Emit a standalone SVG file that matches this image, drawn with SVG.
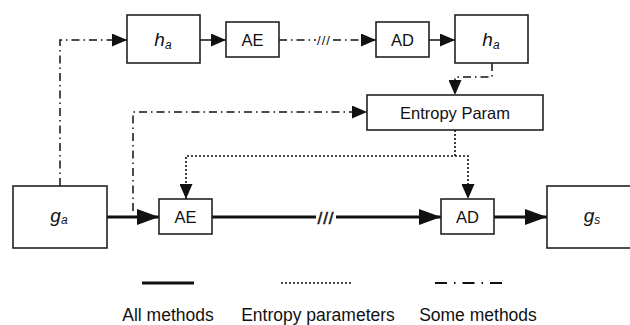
<svg xmlns="http://www.w3.org/2000/svg" width="630" height="325" viewBox="0 0 630 325">
<style>
.box{fill:#fff;stroke:#222;stroke-width:1.6}
.lbl{font-family:"Liberation Sans",Arial,sans-serif;font-size:16.5px;fill:#111;text-anchor:middle}
.it{font-family:"Liberation Sans",Arial,sans-serif;font-style:italic;font-size:19px;fill:#111;text-anchor:middle}
.leg{font-family:"Liberation Sans",Arial,sans-serif;font-size:17.5px;fill:#111;text-anchor:middle}
.solid{fill:none;stroke:#111;stroke-width:3}
.dot{fill:none;stroke:#111;stroke-width:1.6;stroke-dasharray:2 2}
.dd{fill:none;stroke:#111;stroke-width:1.5;stroke-dasharray:8 4 1.5 4}
.thin{fill:none;stroke:#111;stroke-width:1.5}
</style>
<defs>
<marker id="aL" markerUnits="userSpaceOnUse" markerWidth="22" markerHeight="16" refX="22" refY="8" orient="auto">
<path d="M0,0 L22,8 L0,16 Z" fill="#111"/>
</marker>
<marker id="aS" markerUnits="userSpaceOnUse" markerWidth="15" markerHeight="13" refX="15" refY="6.5" orient="auto">
<path d="M0,0 L15,6.5 L0,13 Z" fill="#111"/>
</marker>
</defs>

<g id="connectors">
<path class="dd" d="M60,186 V40 H127" marker-end="url(#aS)"/>
<path class="thin" d="M200,40 H226" marker-end="url(#aS)"/>
<path class="dd" d="M279,40 H316"/>
<text x="324" y="45" font-family="Liberation Sans,Arial,sans-serif" font-size="13" fill="#111" text-anchor="middle" letter-spacing="1">///</text>
<path class="dd" d="M333,40 H376" stroke-dasharray="1.5 5 1.5 5 8 4" marker-end="url(#aS)"/>
<path class="thin" d="M429,40 H455" marker-end="url(#aS)"/>
<path class="dd" d="M492,63 V77 H455 V95" marker-end="url(#aS)"/>
<path class="dd" d="M133,211 V112 H367" marker-end="url(#aS)"/>
<path class="dot" d="M455,130 V156 H186 V199" marker-end="url(#aS)"/>
<path class="dot" d="M455,156 H468 V199" marker-end="url(#aS)"/>
<path class="solid" d="M107,217 H159" marker-end="url(#aL)"/>
<path class="solid" d="M212,217 H316"/>
<text x="326" y="224" font-family="Liberation Sans,Arial,sans-serif" font-size="17" fill="#111" stroke="#111" stroke-width="0.5" text-anchor="middle" letter-spacing="1">///</text>
<path class="solid" d="M336,217 H441" marker-end="url(#aL)"/>
<path class="solid" d="M494,217 H547" marker-end="url(#aL)"/>
</g>

<g id="ha1"><rect class="box" x="127" y="15" width="73" height="48"/><text class="it" x="163" y="46">h<tspan font-size="12" dy="3">a</tspan></text></g>
<g id="ae1"><rect class="box" x="226" y="22" width="53" height="35"/><text class="lbl" x="252.5" y="45.5">AE</text></g>
<g id="ad1"><rect class="box" x="376" y="22" width="53" height="35"/><text class="lbl" x="402.5" y="45.5">AD</text></g>
<g id="ha2"><rect class="box" x="455" y="15" width="73" height="48"/><text class="it" x="491" y="46">h<tspan font-size="12" dy="3">a</tspan></text></g>
<g id="ep"><rect class="box" x="367" y="95" width="176" height="35"/><text class="lbl" x="455" y="118.5">Entropy Param</text></g>
<g id="ga"><rect class="box" x="13" y="186" width="94" height="62"/><text class="it" x="59" y="222">g<tspan font-size="12" dy="2">a</tspan></text></g>
<g id="ae2"><rect class="box" x="159" y="199" width="53" height="35"/><text class="lbl" x="185.5" y="222.5">AE</text></g>
<g id="ad2"><rect class="box" x="441" y="199" width="53" height="35"/><text class="lbl" x="467.5" y="222.5">AD</text></g>
<g id="gs"><rect class="box" x="547" y="186" width="100" height="62"/><text class="it" x="592" y="222">g<tspan font-size="12" dy="2">s</tspan></text></g>

<g id="legend">
<path class="solid" d="M142,283 H194"/>
<path class="dot" d="M281,283 H352"/>
<path fill="none" stroke="#111" stroke-width="2" stroke-dasharray="12 7 1.5 7" d="M435,283 H502"/>
<text class="leg" x="168" y="321">All methods</text>
<text class="leg" x="318" y="321">Entropy parameters</text>
<text class="leg" x="478" y="321">Some methods</text>
</g>
</svg>
